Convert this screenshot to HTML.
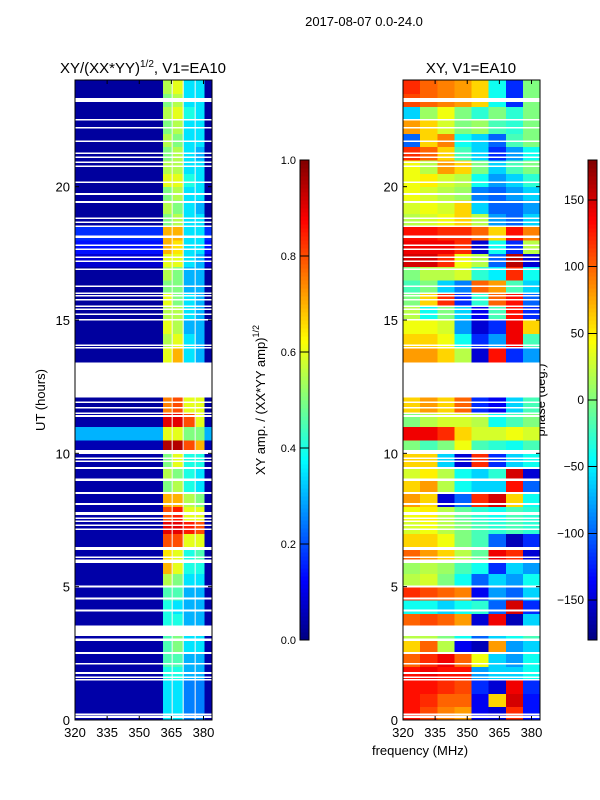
<!DOCTYPE html>
<html><head><meta charset="utf-8"><style>
html,body{margin:0;padding:0;background:#fff;}
svg{display:block;font-family:"Liberation Sans",sans-serif;}
</style></head><body>
<svg id="fig" width="600" height="800" viewBox="0 0 600 800" xmlns="http://www.w3.org/2000/svg">
<text x="364" y="26" font-size="13" text-anchor="middle">2017-08-07 0.0-24.0</text>
<text x="143" y="73" font-size="15" text-anchor="middle">XY/(XX*YY)<tspan dy="-6" font-size="10">1/2</tspan><tspan dy="6">, V1=EA10</tspan></text>
<text x="471" y="73" font-size="15" text-anchor="middle">XY, V1=EA10</text>
<text transform="translate(45,400) rotate(-90)" font-size="13" text-anchor="middle">UT (hours)</text>
<text x="420" y="755" font-size="13" text-anchor="middle">frequency (MHz)</text>
<text transform="translate(265,400) rotate(-90)" font-size="13" text-anchor="middle">XY amp. / (XX*YY amp)<tspan dy="-6" font-size="9">1/2</tspan></text>
<text transform="translate(545,400) rotate(-90)" font-size="13" text-anchor="middle">phase (deg.)</text>
<g id="layer"></g>
</svg>
<script>
// time rows of 0.5 h from 0 to 24
const rowHours = 0.5;
// amplitude panel bands (MHz edges)
const ampBandEdges = [320, 361, 365.5, 370.6, 376.2, 380.5, 384.2];
// per row: [background, band1, band2, band3, band4]
const ampRows = [
[0.04,0.35,0.35,0.25,0.25],[0.04,0.35,0.35,0.25,0.25],[0.04,0.35,0.35,0.25,0.25],
[0.04,0.4,0.4,0.3,0.3],[0.04,0.45,0.45,0.3,0.3],[0.04,0.45,0.5,0.35,0.35],
[0.04,0.45,0.5,0.35,0.35],[0.04,0.4,0.4,0.3,0.3],[0.04,0.4,0.35,0.3,0.3],
[0.04,0.45,0.45,0.3,0.3],[0.04,0.55,0.5,0.35,0.35],[0.04,0.7,0.6,0.4,0.4],
[0.04,0.65,0.6,0.4,0.45],[0.04,0.8,0.8,0.6,0.6],[0.04,0.9,0.9,0.85,0.8],
[0.04,0.8,0.85,0.6,0.6],[0.04,0.7,0.7,0.55,0.5],[0.04,0.5,0.55,0.4,0.35],
[0.04,0.55,0.5,0.4,0.35],[0.04,0.5,0.6,0.4,0.4],[0.05,0.95,0.95,0.8,0.7],
[0.3,0.6,0.6,0.5,0.5],[0.04,0.9,0.9,0.8,0.6],[0.03,0.75,0.8,0.6,0.6],
[0.03,0.75,0.8,0.6,0.6],[0.03,0.75,0.8,0.6,0.6],[0.03,0.6,0.7,0.35,0.3],
[0.03,0.6,0.7,0.35,0.3],[0.03,0.55,0.6,0.35,0.3],[0.03,0.6,0.55,0.3,0.3],
[0.03,0.55,0.55,0.35,0.3],[0.03,0.6,0.5,0.35,0.3],[0.03,0.5,0.5,0.3,0.3],
[0.03,0.55,0.5,0.3,0.3],[0.08,0.6,0.6,0.35,0.3],[0.14,0.7,0.65,0.35,0.35],
[0.17,0.7,0.7,0.35,0.35],[0.03,0.5,0.55,0.35,0.35],[0.03,0.55,0.5,0.35,0.3],
[0.03,0.5,0.55,0.35,0.35],[0.03,0.6,0.6,0.4,0.35],[0.03,0.55,0.55,0.35,0.35],
[0.03,0.5,0.55,0.35,0.3],[0.03,0.55,0.5,0.35,0.35],[0.03,0.5,0.55,0.35,0.35],
[0.03,0.55,0.6,0.4,0.35],[0.03,0.5,0.55,0.35,0.35],[0.03,0.55,0.6,0.35,0.35]
];
// phase panel: 8 MHz columns
const phaseColEdges = [320, 328, 336, 344, 352, 360, 368, 376, 384.2];
const phaseRows = [
[130,110,90,80,-140,-150,120,-130],[130,120,100,100,-140,60,150,-130],
[130,130,120,110,-120,-150,140,-120],[130,140,130,130,-80,-60,-60,-40],
[100,120,140,100,40,-60,-80,-40],[60,100,20,-140,-160,80,-80,-60],
[20,20,0,-40,-100,-60,-40,-20],[100,110,100,80,-150,140,-160,-60],
[-40,-40,-60,-40,-30,-100,150,-120],[120,110,100,90,-140,-80,-100,-60],
[20,30,0,-40,-100,-60,-80,-40],[10,20,10,-20,-40,-120,-60,-80],
[100,80,60,20,-10,140,120,-150],[60,60,40,0,-20,-100,-160,-120],
[30,40,20,0,-20,-30,-20,-30],[40,50,20,-10,-30,-40,-20,-30],
[80,60,-150,-100,120,150,60,-40],[60,80,20,-40,-60,-60,130,-100],
[30,50,20,-40,-60,-30,150,-150],[60,60,-60,-150,120,-120,-60,-40],
[0,-20,0,40,-20,-30,-40,-20],[140,140,120,60,30,30,40,30],
[0,20,30,30,20,-40,-20,0],[60,80,60,100,-120,-140,-60,-20],
[60,80,60,100,-120,-140,-60,-20],[60,80,60,100,-120,-140,-60,-20],
[80,80,60,20,-150,130,-120,-80],[80,80,60,20,-150,130,-120,-80],
[60,60,40,-40,-120,-80,140,-20],[40,40,30,-80,-150,-120,140,60],
[20,-40,0,-60,-140,-20,130,-120],[0,60,120,-120,-30,100,130,-100],
[-20,0,-60,-90,100,80,-20,-60],[0,20,20,30,-30,-50,120,-40],
[150,150,120,40,20,-100,160,-150],[140,140,140,120,-150,-40,-120,20],
[130,130,120,120,100,60,130,90],[20,30,40,60,20,-80,-100,-60],
[30,40,30,60,-60,-100,-100,-80],[40,30,20,10,-90,-100,-80,-60],
[40,50,30,20,-40,-80,-60,-30],[40,20,80,60,0,-60,-20,0],
[120,100,60,-20,-60,-120,-80,-40],[-100,60,90,-40,-60,-100,-20,0],
[80,60,30,0,10,-20,-30,0],[-60,10,40,0,-30,0,-30,0],
[110,100,90,80,60,-40,-120,0],[120,100,90,80,60,-40,-120,0]
];
// flagged (no data) time intervals in hours
const gaps = [[0.08,0.16],[0.18,0.24],[1.48,1.54],[1.58,1.64],[1.72,1.80],[2.08,2.14],[2.47,2.55],[2.97,3.05],[3.15,3.55],[4.07,4.15],[4.52,4.60],[4.97,5.05],[5.88,6.02],[6.08,6.14],[6.38,6.48],[7.12,7.18],[7.28,7.34],[7.43,7.49],[7.53,7.59],[7.68,7.80],[8.07,8.13],[8.47,8.55],[8.97,9.05],[9.42,9.48],[9.68,9.74],[9.78,9.84],[9.98,10.12],[11.37,11.43],[11.48,11.54],[11.68,11.74],[11.88,11.94],[12.1,13.4],[13.93,13.99],[14.03,14.09],[14.98,15.04],[15.18,15.24],[15.38,15.44],[15.48,15.54],[15.73,15.79],[15.88,15.94],[15.98,16.04],[16.23,16.29],[16.88,16.94],[17.18,17.24],[17.33,17.39],[17.63,17.69],[17.78,17.84],[18.08,18.16],[18.48,18.54],[18.63,18.69],[18.78,18.84],[19.38,19.46],[19.68,19.76],[20.13,20.19],[20.73,20.79],[20.88,20.94],[21.08,21.14],[21.23,21.29],[21.68,21.74],[22.18,22.24],[22.48,22.54],[23.18,23.32]];
const xTicks = [320, 335, 350, 365, 380];
const yTicks = [0, 5, 10, 15, 20];
const ampTicks = [0.0, 0.2, 0.4, 0.6, 0.8, 1.0];
const phaseTicks = [-150, -100, -50, 0, 50, 100, 150];
const vlines = [365.5, 370.6, 376.2];

const NS = "http://www.w3.org/2000/svg";
const layer = document.getElementById('layer');
function mk(tag, attrs, parent) {
  const e = document.createElementNS(NS, tag);
  for (const k in attrs) e.setAttribute(k, attrs[k]);
  (parent || layer).appendChild(e);
  return e;
}
function jet(v) {
  v = Math.max(0, Math.min(1, v));
  const c = x => Math.round(255 * Math.max(0, Math.min(1, x)));
  return `rgb(${c(1.5 - Math.abs(4 * v - 3))},${c(1.5 - Math.abs(4 * v - 2))},${c(1.5 - Math.abs(4 * v - 1))})`;
}
const T = 80, B = 720;
const yScale = t => B - (t / 24) * (B - T);
function xScaleFor(left) { return f => left + (f - 320) * (128.5 / 60); }
const panels = [{ left: 75, right: 212, name: 'amplitude' }, { left: 403, right: 540, name: 'phase' }];

panels.forEach((p, pi) => {
  const xs = xScaleFor(p.left);
  const g = mk('g', { 'shape-rendering': 'crispEdges' });
  
  
  const rows = pi === 0 ? ampRows : phaseRows;
  const edges = pi === 0 ? ampBandEdges : phaseColEdges;
  rows.forEach((row, ri) => {
    const y0 = yScale((ri + 1) * rowHours), y1 = yScale(ri * rowHours);
    for (let ci = 0; ci < edges.length - 1; ci++) {
      let v;
      if (pi === 0) v = (ci === 0 || ci === edges.length - 2) ? row[0] : row[ci];
      else v = (row[ci] + 180) / 360;
      const x0 = xs(edges[ci]), x1 = Math.min(p.right, xs(edges[ci + 1]));
      const r = mk('rect', { x: x0, y: y0, width: Math.max(0, x1 - x0), height: y1 - y0 + 0.5, fill: jet(v) }, g);
      
      
    }
  });
  if (pi === 0) vlines.forEach(f => {
    const l = mk('rect', { x: xs(f) - 1, y: T, width: 1.5, height: B - T, fill: '#f4f4f4', opacity: 0.7 }, g);
    
    
  });
  gaps.forEach(gp => {
    const r = mk('rect', { x: p.left, y: yScale(gp[1]), width: p.right - p.left, height: yScale(gp[0]) - yScale(gp[1]), fill: '#fff' }, g);
    
    
  });
  const fr = mk('rect', { x: p.left, y: T, width: p.right - p.left, height: B - T, fill: 'none', stroke: '#000', 'stroke-width': 1 });
  
  
  xTicks.forEach(t => {
    const x = xs(t);
    mk('line', { x1: x, x2: x, y1: B, y2: B - 4, stroke: '#000' });
    mk('line', { x1: x, x2: x, y1: T, y2: T + 4, stroke: '#000' });
    const tx = mk('text', { x: x, y: B + 17, 'font-size': 13, 'text-anchor': 'middle' });
    tx.textContent = t;
    
    
  });
  yTicks.forEach(t => {
    const y = yScale(t);
    mk('line', { x1: p.left, x2: p.left + 4, y1: y, y2: y, stroke: '#000' });
    mk('line', { x1: p.right, x2: p.right - 4, y1: y, y2: y, stroke: '#000' });
    const tx = mk('text', { x: p.left - 5, y: y + 5, 'font-size': 13, 'text-anchor': 'end' });
    tx.textContent = t;
    
    
  });
});

// colorbars
const cbs = [{ x: 300, ticks: ampTicks, min: 0, max: 1, name: 'amp', fmt: v => v.toFixed(1) },
             { x: 588, ticks: phaseTicks, min: -180, max: 180, name: 'phase', fmt: v => v < 0 ? '\u2212' + Math.abs(v) : '' + v }];
const CT = 160, CB = 640;
cbs.forEach(cb => {
  const g = mk('g', { 'shape-rendering': 'crispEdges' });
  
  
  const n = 120;
  for (let i = 0; i < n; i++) {
    const y = CB - (i + 1) * (CB - CT) / n;
    mk('rect', { x: cb.x, y: y, width: 9, height: (CB - CT) / n + 0.5, fill: jet((i + 0.5) / n) }, g);
  }
  mk('rect', { x: cb.x, y: CT, width: 9, height: CB - CT, fill: 'none', stroke: '#000' }, g);
  cb.ticks.forEach(t => {
    const y = CB - (t - cb.min) / (cb.max - cb.min) * (CB - CT);
    mk('line', { x1: cb.x, x2: cb.x + 9, y1: y, y2: y, stroke: '#000' }, g);
    const tx = mk('text', { x: cb.x - 4, y: y + 4, 'font-size': cb.name === 'amp' ? 11 : 12, 'text-anchor': 'end' }, g);
    tx.textContent = cb.fmt(t);
    
    
  });
});
</script>
</body></html>
